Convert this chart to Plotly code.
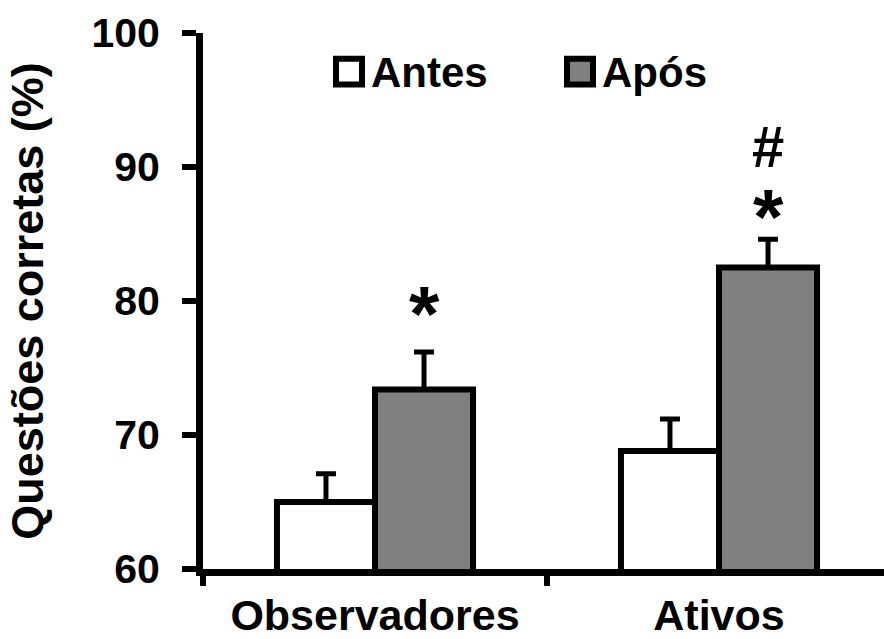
import plotly.graph_objects as go

categories = ["Observadores", "Ativos"]
antes_vals = [65.0, 68.8]
antes_err = [2.1, 2.4]
apos_vals = [73.4, 82.5]
apos_err = [2.8, 2.1]
series_names = ["Antes", "Após"]
y_ticks = [60, 70, 80, 90, 100]
sig_marks = [["*"], ["*", "#"]]

FONT = "Liberation Sans, Arial, sans-serif"
W, H = 884, 639
L, R, T, B = 203, 0, 33, 64
pw = W - L - R
ph = H - T - B

fig = go.Figure()
fig.add_trace(go.Bar(
    x=categories, y=antes_vals, name=series_names[0],
    marker=dict(color="white", line=dict(color="black", width=6)),
    error_y=dict(type="data", symmetric=False, array=antes_err,
                 arrayminus=[0] * len(antes_err), color="black",
                 thickness=5, width=10),
    showlegend=False,
))
fig.add_trace(go.Bar(
    x=categories, y=apos_vals, name=series_names[1],
    marker=dict(color="#808080", line=dict(color="black", width=6)),
    error_y=dict(type="data", symmetric=False, array=apos_err,
                 arrayminus=[0] * len(apos_err), color="black",
                 thickness=5, width=10),
    showlegend=False,
))

# significance markers above the "Após" bars (pixel shifts above the error cap)
bar_w = 0.285
mark_shifts = [[-8], [-24, 58]]
for i, marks in enumerate(sig_marks):
    top = apos_vals[i] + apos_err[i]
    for m, sh in zip(marks, mark_shifts[i]):
        size = 78 if m == "*" else 58
        fig.add_annotation(x=i + bar_w / 2, y=top, xref="x", yref="y",
                           text=f"<b>{m}</b>", showarrow=False,
                           yanchor="bottom", yshift=sh,
                           font=dict(family=FONT, size=size, color="black"))

# manual legend (larger symbols than Plotly's fixed legend icons)
def px_x(p):
    return (p - L) / pw

def px_y(p):
    return (H - B - p) / ph

legend_items = [(series_names[0], "white", 349), (series_names[1], "#808080", 580)]
for name, col, cx in legend_items:
    fig.add_shape(type="rect", xref="paper", yref="paper",
                  x0=px_x(cx - 13), x1=px_x(cx + 13),
                  y0=px_y(85), y1=px_y(59),
                  fillcolor=col, line=dict(color="black", width=6), layer="above")
    fig.add_annotation(xref="paper", yref="paper", x=px_x(cx + 20), y=px_y(73),
                       xanchor="left", yanchor="middle", showarrow=False,
                       text=f"<b>{name}</b>",
                       font=dict(family=FONT, size=42, color="black"))

fig.update_layout(
    width=W, height=H,
    margin=dict(l=L, r=R, t=T, b=B),
    paper_bgcolor="white", plot_bgcolor="white",
    barmode="group", bargap=0.43, bargroupgap=0,
    font=dict(family=FONT, color="black"),
    showlegend=False,
)
fig.update_xaxes(
    range=[-0.5, -0.5 + pw / 344],
    showline=True, linecolor="black", linewidth=7,
    ticks="outside", tickson="boundaries", ticklen=10, tickwidth=6, tickcolor="black",
    ticklabelstandoff=2,
    tickfont=dict(family=FONT, size=43, color="black", weight="bold"),
    showgrid=False, zeroline=False,
)
fig.update_yaxes(
    range=[60, 100], tickvals=y_ticks,
    showline=True, linecolor="black", linewidth=7,
    ticks="outside", ticklen=14, tickwidth=6, tickcolor="black",
    ticklabelstandoff=14,
    tickfont=dict(family=FONT, size=41, color="black", weight="bold"),
    title=dict(text="Questões corretas (%)", standoff=36,
               font=dict(family=FONT, size=45, color="black", weight="bold")),
    showgrid=False, zeroline=False,
)

fig.write_html("out.html", config={"displayModeBar": False},
               post_script="document.body.style.margin='0';document.body.style.overflow='hidden';")
